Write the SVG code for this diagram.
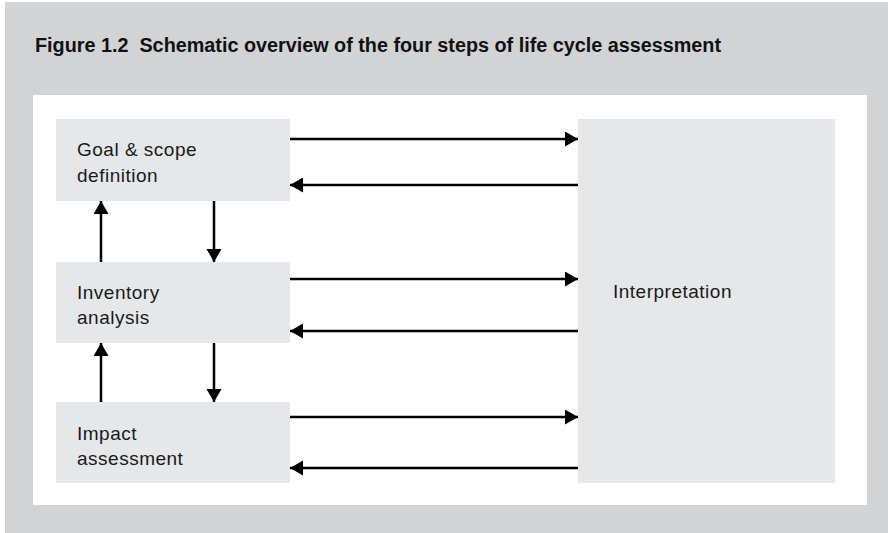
<svg xmlns="http://www.w3.org/2000/svg" width="888" height="533" viewBox="0 0 888 533">
<style>
.box{fill:#e6e7e8}
.lbl{font-family:"Liberation Sans",Arial,sans-serif;font-size:19px;letter-spacing:0.5px;fill:#1a1a1a}
.title{font-family:"Liberation Sans",Arial,sans-serif;font-size:20px;font-weight:bold;fill:#111}
.conn{stroke:#000;stroke-width:2.5;fill:none;marker-end:url(#ah)}
</style>
<defs>
<marker id="ah" markerUnits="userSpaceOnUse" markerWidth="14" markerHeight="16" refX="13" refY="7.5" orient="auto">
<path d="M0,0 L13,7.5 L0,15 z" fill="#000"/>
</marker>
</defs>
<rect x="0" y="0" width="888" height="533" fill="#ffffff"/>
<rect x="5" y="2" width="883" height="531" fill="#d2d3d5"/>
<rect x="33" y="95" width="834" height="410" fill="#ffffff"/>
<text class="title" x="35" y="52" textLength="686" lengthAdjust="spacingAndGlyphs">Figure 1.2&#160; Schematic overview of the four steps of life cycle assessment</text>
<g id="goal">
<rect class="box" x="56" y="119" width="234" height="82"/>
<text class="lbl" x="77" y="156">Goal &amp; scope</text>
<text class="lbl" x="77" y="182">definition</text>
</g>
<g id="inventory">
<rect class="box" x="56" y="262" width="234" height="81"/>
<text class="lbl" x="77" y="299">Inventory</text>
<text class="lbl" x="77" y="324">analysis</text>
</g>
<g id="impact">
<rect class="box" x="56" y="402" width="234" height="81"/>
<text class="lbl" x="77" y="440">Impact</text>
<text class="lbl" x="77" y="465">assessment</text>
</g>
<g id="interpretation">
<rect class="box" x="578" y="119" width="257" height="364"/>
<text class="lbl" x="613" y="298">Interpretation</text>
</g>
<g id="connectors">
<line class="conn" x1="290" y1="139" x2="578" y2="139"/>
<line class="conn" x1="578" y1="185" x2="290" y2="185"/>
<line class="conn" x1="290" y1="279" x2="578" y2="279"/>
<line class="conn" x1="578" y1="331" x2="290" y2="331"/>
<line class="conn" x1="290" y1="417" x2="578" y2="417"/>
<line class="conn" x1="578" y1="468" x2="290" y2="468"/>
<line class="conn" x1="101" y1="262" x2="101" y2="201"/>
<line class="conn" x1="214" y1="201" x2="214" y2="262"/>
<line class="conn" x1="101" y1="402" x2="101" y2="343"/>
<line class="conn" x1="214" y1="343" x2="214" y2="402"/>
</g>
</svg>
